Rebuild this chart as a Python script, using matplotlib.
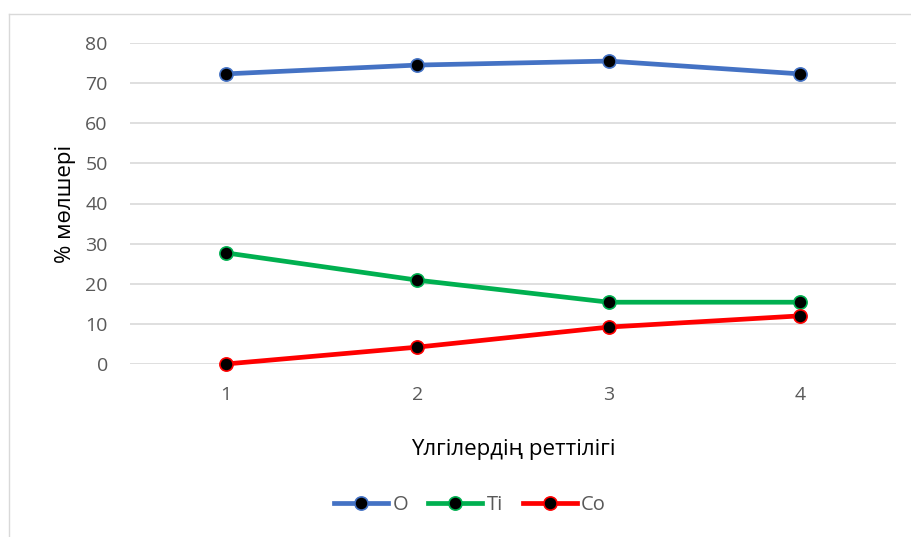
import matplotlib.pyplot as plt
from matplotlib.lines import Line2D

plt.rcParams['font.family'] = ['Open Sans', 'DejaVu Sans']

samples = [1, 2, 3, 4]
o_vals = [72.3, 74.5, 75.5, 72.3]
ti_vals = [27.7, 20.9, 15.4, 15.4]
co_vals = [0.0, 4.2, 9.2, 12.0]

series = [('O', o_vals, '#4472C4'), ('Ti', ti_vals, '#00B050'), ('Co', co_vals, '#FF0000')]

fig = plt.figure(figsize=(9.12, 5.37), dpi=100)
ax = fig.add_axes([130 / 912, 1 - 364 / 537, (896 - 130) / 912, (364 - 43) / 537])

for name, vals, col in series:
    ax.plot(samples, vals, color=col, lw=3.4, marker='o', ms=9.5,
            mfc='black', mec=col, mew=1.2, label=name, zorder=3, clip_on=False)

ax.set_xlim(0.5, 4.5)
ax.set_ylim(0, 80)
ax.set_yticks(range(0, 81, 10))
ax.set_xticks(samples)
ax.grid(axis='y', color='#d9d9d9', lw=1.2)
ax.set_axisbelow(True)
for s in ax.spines.values():
    s.set_visible(False)
ax.tick_params(length=0, labelsize=14, colors='#595959')
ax.tick_params(axis='y', pad=16)
ax.tick_params(axis='x', pad=16)

ax.set_xlabel('Үлгілердің реттілігі', fontsize=16, color='black', labelpad=25)
ax.set_ylabel('% мөлшері', fontsize=16, color='black', labelpad=7)

leg = fig.legend(loc='center', bbox_to_anchor=(470 / 912, 1 - 505 / 537), ncol=3,
                 frameon=False, fontsize=14.5, handlelength=2.7, columnspacing=1.0,
                 handletextpad=0.2)
for t in leg.get_texts():
    t.set_color('#595959')

# chart frame
fig.add_artist(Line2D([9 / 912, 9 / 912], [0, 1 - 14 / 537], color='#d9d9d9', lw=1))
fig.add_artist(Line2D([9 / 912, 1], [1 - 14 / 537, 1 - 14 / 537], color='#d9d9d9', lw=1))

fig.savefig('out.png', dpi=100)
